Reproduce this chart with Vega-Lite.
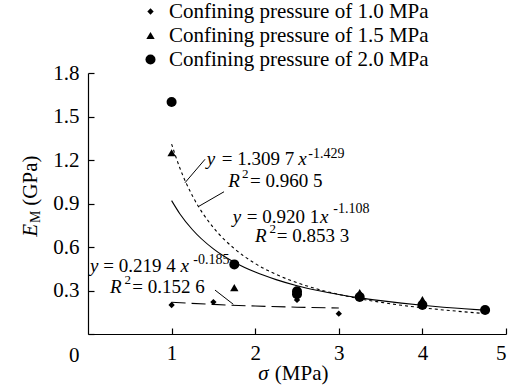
{
  "$schema": "https://vega.github.io/schema/vega-lite/v6.json",
  "autosize": {"type": "none"},
  "padding": {"left": 88, "top": 73, "right": 8, "bottom": 54},
  "width": 418,
  "height": 261,
  "background": "white",
  "config": {
    "view": {"stroke": null},
    "text": {"font": "Liberation Serif", "color": "#000"}
  },
  "data": {"values": [{}]},
  "datasets": {
    "points": [
      {"sigma": 1, "E": 1.6, "pressure": "Confining pressure of 2.0 MPa"},
      {"sigma": 1.75, "E": 0.48, "pressure": "Confining pressure of 2.0 MPa"},
      {"sigma": 2.5, "E": 0.295, "pressure": "Confining pressure of 2.0 MPa"},
      {"sigma": 2.5, "E": 0.275, "pressure": "Confining pressure of 2.0 MPa"},
      {"sigma": 3.25, "E": 0.255, "pressure": "Confining pressure of 2.0 MPa"},
      {"sigma": 4, "E": 0.2, "pressure": "Confining pressure of 2.0 MPa"},
      {"sigma": 4.75, "E": 0.165, "pressure": "Confining pressure of 2.0 MPa"},
      {"sigma": 1, "E": 0.20, "pressure": "Confining pressure of 1.0 MPa"},
      {"sigma": 1.5, "E": 0.22, "pressure": "Confining pressure of 1.0 MPa"},
      {"sigma": 2.5, "E": 0.255, "pressure": "Confining pressure of 1.0 MPa"},
      {"sigma": 2.5, "E": 0.235, "pressure": "Confining pressure of 1.0 MPa"},
      {"sigma": 3, "E": 0.14, "pressure": "Confining pressure of 1.0 MPa"},
      {"sigma": 4, "E": 0.195, "pressure": "Confining pressure of 1.0 MPa"},
      {"sigma": 1, "E": 1.25, "pressure": "Confining pressure of 1.5 MPa"},
      {"sigma": 1.75, "E": 0.32, "pressure": "Confining pressure of 1.5 MPa"},
      {"sigma": 3.25, "E": 0.285, "pressure": "Confining pressure of 1.5 MPa"},
      {"sigma": 3.25, "E": 0.27, "pressure": "Confining pressure of 1.5 MPa"},
      {"sigma": 4, "E": 0.237, "pressure": "Confining pressure of 1.5 MPa"},
      {"sigma": 4, "E": 0.22, "pressure": "Confining pressure of 1.5 MPa"}
    ],
    "curves": [
      {"curve": "1.5", "sigma": 1, "E": 1.310},
      {"curve": "1.5", "sigma": 1.1, "E": 1.143},
      {"curve": "1.5", "sigma": 1.25, "E": 0.952},
      {"curve": "1.5", "sigma": 1.5, "E": 0.734},
      {"curve": "1.5", "sigma": 1.75, "E": 0.589},
      {"curve": "1.5", "sigma": 2, "E": 0.486},
      {"curve": "1.5", "sigma": 2.25, "E": 0.411},
      {"curve": "1.5", "sigma": 2.5, "E": 0.354},
      {"curve": "1.5", "sigma": 2.75, "E": 0.309},
      {"curve": "1.5", "sigma": 3, "E": 0.273},
      {"curve": "1.5", "sigma": 3.25, "E": 0.243},
      {"curve": "1.5", "sigma": 3.5, "E": 0.219},
      {"curve": "1.5", "sigma": 3.75, "E": 0.198},
      {"curve": "1.5", "sigma": 4, "E": 0.181},
      {"curve": "1.5", "sigma": 4.25, "E": 0.166},
      {"curve": "1.5", "sigma": 4.5, "E": 0.153},
      {"curve": "1.5", "sigma": 4.75, "E": 0.141},
      {"curve": "2.0", "sigma": 1, "E": 0.920},
      {"curve": "2.0", "sigma": 1.1, "E": 0.828},
      {"curve": "2.0", "sigma": 1.25, "E": 0.719},
      {"curve": "2.0", "sigma": 1.5, "E": 0.587},
      {"curve": "2.0", "sigma": 1.75, "E": 0.495},
      {"curve": "2.0", "sigma": 2, "E": 0.427},
      {"curve": "2.0", "sigma": 2.25, "E": 0.375},
      {"curve": "2.0", "sigma": 2.5, "E": 0.333},
      {"curve": "2.0", "sigma": 2.75, "E": 0.300},
      {"curve": "2.0", "sigma": 3, "E": 0.272},
      {"curve": "2.0", "sigma": 3.25, "E": 0.249},
      {"curve": "2.0", "sigma": 3.5, "E": 0.230},
      {"curve": "2.0", "sigma": 3.75, "E": 0.213},
      {"curve": "2.0", "sigma": 4, "E": 0.198},
      {"curve": "2.0", "sigma": 4.25, "E": 0.185},
      {"curve": "2.0", "sigma": 4.5, "E": 0.174},
      {"curve": "2.0", "sigma": 4.75, "E": 0.164},
      {"curve": "1.0", "sigma": 1, "E": 0.219},
      {"curve": "1.0", "sigma": 1.5, "E": 0.204},
      {"curve": "1.0", "sigma": 2, "E": 0.193},
      {"curve": "1.0", "sigma": 2.5, "E": 0.185},
      {"curve": "1.0", "sigma": 3, "E": 0.179}
    ]
  },
  "layer": [
    {
      "data": {"name": "curves"},
      "transform": [{"filter": "datum.curve === '1.5'"}],
      "mark": {"type": "line", "color": "#000", "strokeWidth": 1.1, "strokeDash": [3, 3], "interpolate": "monotone"},
      "encoding": {
        "x": {"field": "sigma", "type": "quantitative", "scale": {"domain": [0, 5], "nice": false},
          "axis": {"title": null, "values": [1, 2, 3, 4, 5], "format": "d", "grid": false, "tickSize": -6, "labelPadding": 14,
            "domainColor": "#000", "tickColor": "#000", "labelColor": "#000", "labelFont": "Liberation Serif", "labelFontSize": 21,
            "domainWidth": 1.2, "tickWidth": 1.2}},
        "y": {"field": "E", "type": "quantitative", "scale": {"domain": [0, 1.8], "nice": false},
          "axis": {"title": null, "values": [0, 0.3, 0.6, 0.9, 1.2, 1.5, 1.8], "labelExpr": "datum.value === 0 ? '0' : format(datum.value, '.1f')",
            "grid": false, "tickSize": -6, "labelPadding": 15,
            "labelOffset": {"condition": {"test": "datum.value === 0", "value": 21}, "value": 0},
            "domainColor": "#000", "tickColor": "#000", "labelColor": "#000", "labelFont": "Liberation Serif", "labelFontSize": 21,
            "domainWidth": 1.2, "tickWidth": 1.2}}
      }
    },
    {
      "data": {"name": "curves"},
      "transform": [{"filter": "datum.curve === '2.0'"}],
      "mark": {"type": "line", "color": "#000", "strokeWidth": 1.1, "interpolate": "monotone"},
      "encoding": {
        "x": {"field": "sigma", "type": "quantitative"},
        "y": {"field": "E", "type": "quantitative"}
      }
    },
    {
      "data": {"name": "curves"},
      "transform": [{"filter": "datum.curve === '1.0'"}],
      "mark": {"type": "line", "color": "#000", "strokeWidth": 1.1, "strokeDash": [14, 6], "interpolate": "monotone"},
      "encoding": {
        "x": {"field": "sigma", "type": "quantitative"},
        "y": {"field": "E", "type": "quantitative"}
      }
    },
    {
      "data": {"name": "points"},
      "transform": [{"filter": "datum.pressure === 'Confining pressure of 2.0 MPa'"}],
      "mark": {"type": "point", "filled": true, "color": "#000", "opacity": 1},
      "encoding": {
        "x": {"field": "sigma", "type": "quantitative"},
        "y": {"field": "E", "type": "quantitative"},
        "shape": {"field": "pressure", "type": "nominal",
          "scale": {"domain": ["Confining pressure of 1.0 MPa", "Confining pressure of 1.5 MPa", "Confining pressure of 2.0 MPa"], "range": ["diamond", "triangle-up", "circle"]},
          "legend": {"orient": "none", "legendX": 52, "legendY": -72, "title": null, "labelFont": "Liberation Serif", "labelFontSize": 21, "labelLimit": 0,
            "labelColor": "#000", "symbolFillColor": "#000", "symbolStrokeColor": "#000", "rowPadding": 2, "labelOffset": 8}},
        "size": {"field": "pressure", "type": "nominal",
          "scale": {"domain": ["Confining pressure of 1.0 MPa", "Confining pressure of 1.5 MPa", "Confining pressure of 2.0 MPa"], "range": [40, 100, 65]},
          "legend": {"orient": "none", "legendX": 52, "legendY": -72, "title": null, "labelFont": "Liberation Serif", "labelFontSize": 21, "labelLimit": 0,
            "labelColor": "#000", "symbolFillColor": "#000", "symbolStrokeColor": "#000", "rowPadding": 2, "labelOffset": 8}}
      }
    },
    {
      "data": {"name": "points"},
      "transform": [{"filter": "datum.pressure === 'Confining pressure of 1.0 MPa'"}],
      "mark": {"type": "point", "filled": true, "color": "#000", "opacity": 1},
      "encoding": {
        "x": {"field": "sigma", "type": "quantitative"},
        "y": {"field": "E", "type": "quantitative"},
        "shape": {"field": "pressure", "type": "nominal"},
        "size": {"field": "pressure", "type": "nominal"}
      }
    },
    {
      "data": {"name": "points"},
      "transform": [{"filter": "datum.pressure === 'Confining pressure of 1.5 MPa'"}],
      "mark": {"type": "point", "filled": true, "color": "#000", "opacity": 1},
      "encoding": {
        "x": {"field": "sigma", "type": "quantitative"},
        "y": {"field": "E", "type": "quantitative"},
        "shape": {"field": "pressure", "type": "nominal"},
        "size": {"field": "pressure", "type": "nominal"}
      }
    },
    {"mark": {"type": "rule", "color": "#000", "strokeWidth": 1}, "encoding": {"x": {"datum": 1.16}, "y": {"datum": 1.043}, "x2": {"datum": 1.40}, "y2": {"datum": 1.205}}},
    {"mark": {"type": "rule", "color": "#000", "strokeWidth": 1}, "encoding": {"x": {"datum": 1.318}, "y": {"datum": 0.878}, "x2": {"datum": 1.627}, "y2": {"datum": 0.981}}},
    {"mark": {"type": "rule", "color": "#000", "strokeWidth": 1}, "encoding": {"x": {"datum": 1.519}, "y": {"datum": 0.303}, "x2": {"datum": 1.738}, "y2": {"datum": 0.205}}},

    {"mark": {"type": "text", "align": "left", "baseline": "alphabetic", "fontSize": 19, "fontStyle": "italic"}, "encoding": {"x": {"datum": 1.42}, "y": {"datum": 1.1655}, "text": {"value": "y"}}},
    {"mark": {"type": "text", "align": "left", "baseline": "alphabetic", "fontSize": 19}, "encoding": {"x": {"datum": 1.599}, "y": {"datum": 1.1655}, "text": {"value": "= 1.309 7"}}},
    {"mark": {"type": "text", "align": "left", "baseline": "alphabetic", "fontSize": 19, "fontStyle": "italic"}, "encoding": {"x": {"datum": 2.515}, "y": {"datum": 1.1655}, "text": {"value": "x"}}},
    {"mark": {"type": "text", "align": "left", "baseline": "alphabetic", "fontSize": 14}, "encoding": {"x": {"datum": 2.635}, "y": {"datum": 1.2117}, "text": {"value": "-1.429"}}},
    {"mark": {"type": "text", "align": "left", "baseline": "alphabetic", "fontSize": 19, "fontStyle": "italic"}, "encoding": {"x": {"datum": 1.678}, "y": {"datum": 1.0159}, "text": {"value": "R"}}},
    {"mark": {"type": "text", "align": "left", "baseline": "alphabetic", "fontSize": 13}, "encoding": {"x": {"datum": 1.843}, "y": {"datum": 1.075}, "text": {"value": "2"}}},
    {"mark": {"type": "text", "align": "left", "baseline": "alphabetic", "fontSize": 19}, "encoding": {"x": {"datum": 1.938}, "y": {"datum": 1.0159}, "text": {"value": "= 0.960 5"}}},

    {"mark": {"type": "text", "align": "left", "baseline": "alphabetic", "fontSize": 19, "fontStyle": "italic"}, "encoding": {"x": {"datum": 1.731}, "y": {"datum": 0.7634}, "text": {"value": "y"}}},
    {"mark": {"type": "text", "align": "left", "baseline": "alphabetic", "fontSize": 19}, "encoding": {"x": {"datum": 1.898}, "y": {"datum": 0.7634}, "text": {"value": "= 0.920 1"}}},
    {"mark": {"type": "text", "align": "left", "baseline": "alphabetic", "fontSize": 19, "fontStyle": "italic"}, "encoding": {"x": {"datum": 2.775}, "y": {"datum": 0.7634}, "text": {"value": "x"}}},
    {"mark": {"type": "text", "align": "left", "baseline": "alphabetic", "fontSize": 14}, "encoding": {"x": {"datum": 2.934}, "y": {"datum": 0.834}, "text": {"value": "-1.108"}}},
    {"mark": {"type": "text", "align": "left", "baseline": "alphabetic", "fontSize": 19, "fontStyle": "italic"}, "encoding": {"x": {"datum": 1.998}, "y": {"datum": 0.6366}, "text": {"value": "R"}}},
    {"mark": {"type": "text", "align": "left", "baseline": "alphabetic", "fontSize": 13}, "encoding": {"x": {"datum": 2.170}, "y": {"datum": 0.697}, "text": {"value": "2"}}},
    {"mark": {"type": "text", "align": "left", "baseline": "alphabetic", "fontSize": 19}, "encoding": {"x": {"datum": 2.257}, "y": {"datum": 0.6366}, "text": {"value": "= 0.853 3"}}},

    {"mark": {"type": "text", "align": "left", "baseline": "alphabetic", "fontSize": 19, "fontStyle": "italic"}, "encoding": {"x": {"datum": 0.024}, "y": {"datum": 0.4297}, "text": {"value": "y"}}},
    {"mark": {"type": "text", "align": "left", "baseline": "alphabetic", "fontSize": 19}, "encoding": {"x": {"datum": 0.183}, "y": {"datum": 0.4297}, "text": {"value": "= 0.219 4"}}},
    {"mark": {"type": "text", "align": "left", "baseline": "alphabetic", "fontSize": 19, "fontStyle": "italic"}, "encoding": {"x": {"datum": 1.105}, "y": {"datum": 0.4297}, "text": {"value": "x"}}},
    {"mark": {"type": "text", "align": "left", "baseline": "alphabetic", "fontSize": 14}, "encoding": {"x": {"datum": 1.260}, "y": {"datum": 0.4807}, "text": {"value": "-0.185"}}},
    {"mark": {"type": "text", "align": "left", "baseline": "alphabetic", "fontSize": 19, "fontStyle": "italic"}, "encoding": {"x": {"datum": 0.263}, "y": {"datum": 0.2807}, "text": {"value": "R"}}},
    {"mark": {"type": "text", "align": "left", "baseline": "alphabetic", "fontSize": 13}, "encoding": {"x": {"datum": 0.436}, "y": {"datum": 0.342}, "text": {"value": "2"}}},
    {"mark": {"type": "text", "align": "left", "baseline": "alphabetic", "fontSize": 19}, "encoding": {"x": {"datum": 0.530}, "y": {"datum": 0.2807}, "text": {"value": "= 0.152 6"}}},

    {"mark": {"type": "text", "align": "left", "baseline": "alphabetic", "fontSize": 21, "fontStyle": "italic"}, "encoding": {"x": {"datum": 2.037}, "y": {"datum": -0.317}, "text": {"value": "σ"}}},
    {"mark": {"type": "text", "align": "left", "baseline": "alphabetic", "fontSize": 21}, "encoding": {"x": {"datum": 2.235}, "y": {"datum": -0.317}, "text": {"value": "(MPa)"}}},
    {"mark": {"type": "text", "align": "left", "baseline": "alphabetic", "fontSize": 21, "fontStyle": "italic", "angle": 270}, "encoding": {"x": {"datum": -0.61}, "y": {"datum": 0.671}, "text": {"value": "E"}}},
    {"mark": {"type": "text", "align": "left", "baseline": "alphabetic", "fontSize": 14, "angle": 270}, "encoding": {"x": {"datum": -0.574}, "y": {"datum": 0.766}, "text": {"value": "M"}}},
    {"mark": {"type": "text", "align": "left", "baseline": "alphabetic", "fontSize": 21, "angle": 270}, "encoding": {"x": {"datum": -0.61}, "y": {"datum": 0.885}, "text": {"value": "(GPa)"}}}
  ]
}
